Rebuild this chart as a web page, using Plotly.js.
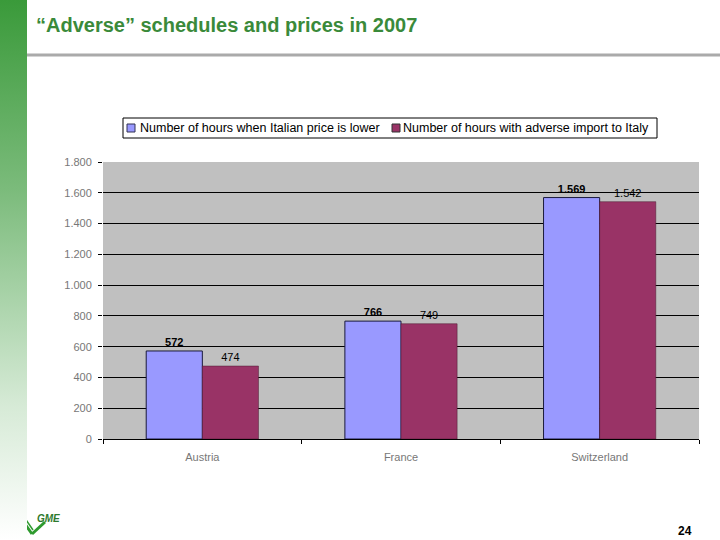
<!DOCTYPE html>
<html>
<head>
<meta charset="utf-8">
<script src="https://cdn.plot.ly/plotly-3.0.1.min.js"></script>
<style>
  html, body { margin: 0; padding: 0; background: #ffffff; }
  #wrap { position: relative; width: 720px; height: 540px; }
  #band { position: absolute; left: 0; top: 0; width: 27px; height: 540px;
          background: linear-gradient(to bottom, #3a9a3a 0%, #7bbb7b 35%, #d6ead6 75%, #ffffff 100%); z-index: 2; }
  #chart { position: absolute; left: 0; top: 0; width: 720px; height: 540px; z-index: 1; }
</style>
</head>
<body>
<div id="wrap">
  <div id="band"></div>
  <div id="chart"></div>
</div>
<script>
const categories = ["Austria", "France", "Switzerland"];
const seriesNames = ["Number of hours when Italian price is lower", "Number of hours with adverse import to Italy"];
const seriesColors = ["#9999ff", "#993366"];
const hoursLower = [572, 766, 1569];
const hoursAdverse = [474, 749, 1542];
const yTickValues = [0, 200, 400, 600, 800, 1000, 1200, 1400, 1600, 1800];

const L = 103, R = 699, T = 162, B = 439;
const px = x => (x - L) / (R - L);
const py = y => (B - y) / (B - T);

const traces = [
  {
    type: "bar", name: seriesNames[0], x: categories, y: hoursLower,
    marker: { color: seriesColors[0], line: { color: "#1a1a3a", width: 1 } },
    texttemplate: "<b>%{y:,}</b>", textposition: "outside", cliponaxis: false,
    textfont: { family: "Liberation Sans, Arial, sans-serif", size: 11, color: "#000000" }
  },
  {
    type: "bar", name: seriesNames[1], x: categories, y: hoursAdverse,
    marker: { color: seriesColors[1], line: { color: "#4a1a30", width: 0.5 } },
    texttemplate: "%{y:,}", textposition: "outside", cliponaxis: false,
    textfont: { family: "Liberation Sans, Arial, sans-serif", size: 11, color: "#000000" }
  }
];

const legendFont = { family: "Liberation Sans, Arial, sans-serif", size: 12.5, color: "#000000" };

const layout = {
  width: 720, height: 540,
  margin: { l: L, r: 720 - R, t: T, b: 540 - B },
  paper_bgcolor: "rgba(0,0,0,0)",
  plot_bgcolor: "#c0c0c0",
  separators: ",.",
  barmode: "group",
  bargap: 0.435,
  bargroupgap: 0,
  showlegend: false,
  font: { family: "Liberation Sans, Arial, sans-serif", color: "#000000" },
  title: {
    text: "<b>“Adverse” schedules and prices in 2007</b>",
    x: 36 / 720, xanchor: "left", xref: "container",
    y: 1 - 25 / 540, yanchor: "middle", yref: "container",
    font: { family: "Liberation Sans Narrow, Liberation Sans, Arial, sans-serif", size: 20, color: "#3a8a3a" }
  },
  xaxis: {
    type: "category",
    showline: true, linecolor: "#000000", linewidth: 1,
    ticks: "outside", tickson: "boundaries", ticklen: 4, tickcolor: "#000000",
    ticklabelstandoff: 8,
    tickfont: { size: 11, color: "#777777" },
    showgrid: false, fixedrange: true
  },
  yaxis: {
    range: [0, 1800],
    tickvals: yTickValues,
    tickformat: ",d",
    separatethousands: true,
    showgrid: true, gridcolor: "#000000", gridwidth: 1,
    zeroline: false,
    ticks: "outside", ticklen: 4, tickcolor: "#000000",
    ticklabelstandoff: 4,
    tickfont: { size: 11, color: "#777777" },
    showline: false, fixedrange: true
  },
  shapes: [
    { type: "line", xref: "paper", yref: "paper", x0: px(27), x1: px(720), y0: py(55), y1: py(55),
      line: { color: "#aaaaaa", width: 3 } },
    { type: "rect", xref: "paper", yref: "paper", x0: px(123), x1: px(657), y0: py(118), y1: py(138),
      line: { color: "#000000", width: 1 }, fillcolor: "#ffffff" },
    { type: "rect", xref: "paper", yref: "paper", x0: px(127), x1: px(135), y0: py(124), y1: py(132),
      line: { color: "#333355", width: 1 }, fillcolor: seriesColors[0] },
    { type: "rect", xref: "paper", yref: "paper", x0: px(392), x1: px(400), y0: py(124), y1: py(132),
      line: { color: "#333333", width: 1 }, fillcolor: seriesColors[1] },
    { type: "line", xref: "paper", yref: "paper", x0: px(18), x1: px(32), y0: py(514), y1: py(534),
      line: { color: "#2e9a2e", width: 3 } },
    { type: "line", xref: "paper", yref: "paper", x0: px(22), x1: px(33), y0: py(514), y1: py(530),
      line: { color: "#2e9a2e", width: 1.5 } },
    { type: "line", xref: "paper", yref: "paper", x0: px(32), x1: px(45), y0: py(534), y1: py(522),
      line: { color: "#2e9a2e", width: 3 } }
  ],
  annotations: [
    { text: seriesNames[0], xref: "paper", yref: "paper", x: px(138), xanchor: "left", y: py(128), yanchor: "middle",
      showarrow: false, font: legendFont },
    { text: seriesNames[1], xref: "paper", yref: "paper", x: px(401), xanchor: "left", y: py(128), yanchor: "middle",
      showarrow: false, font: legendFont },
    { text: "<b>24</b>", xref: "paper", yref: "paper", x: px(694), xanchor: "right", y: py(531), yanchor: "middle",
      showarrow: false, font: { size: 12, color: "#000000" } },
    { text: "<i><b>GME</b></i>", xref: "paper", yref: "paper", x: px(35), xanchor: "left", y: py(518), yanchor: "middle",
      showarrow: false, font: { size: 10, color: "#2e7a2e", family: "Liberation Sans Narrow, Liberation Sans, sans-serif" } }
  ]
};

Plotly.newPlot("chart", traces, layout, { displayModeBar: false, staticPlot: true });
</script>
</body>
</html>
